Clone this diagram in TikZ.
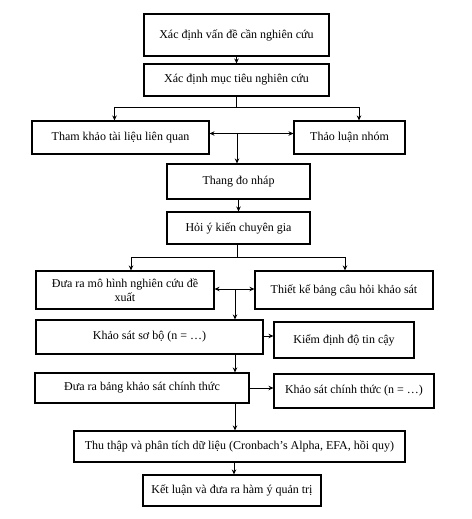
\documentclass[tikz,border=0pt]{standalone}
\usepackage{fontspec}
\setmainfont{Liberation Serif}
\usepackage{tikz}
\usetikzlibrary{positioning,calc,arrows.meta}

\tikzset{
	stepbox/.style={draw=black, line width=1.1pt, fill=white, align=center, inner sep=2pt, font=\fontsize{12}{14}\selectfont},
	link/.style={-{Stealth[length=5pt,width=4.5pt]}, line width=0.8pt},
	twoway/.style={{Stealth[length=5pt,width=4.5pt]}-{Stealth[length=5pt,width=4.5pt]}, line width=0.8pt},
	plain/.style={line width=0.8pt}
}

\begin{document}
\begin{tikzpicture}[x=1pt,y=1pt]
		\useasboundingbox (0,0) rectangle (471,-519);
		\node[stepbox, minimum width=185pt, minimum height=42pt] (vande) at (236.5,-35) {Xác định vấn đề cần nghiên cứu};
		\node[stepbox, minimum width=185pt, minimum height=32pt] (muctieu) at (236.5,-80) {Xác định mục tiêu nghiên cứu};
		\node[stepbox, minimum width=177pt, minimum height=33pt] (thamkhao) at (120.5,-137.5) {Tham khảo tài liệu liên quan};
		\node[stepbox, minimum width=111pt, minimum height=33pt] (thaoluan) at (349.5,-137.5) {Thảo luận nhóm};
		\node[stepbox, minimum width=143pt, minimum height=35pt] (nhap) at (238.5,-181.5) {Thang đo nháp};
		\node[stepbox, minimum width=143pt, minimum height=32pt] (chuyengia) at (238.5,-228) {Hỏi ý kiến chuyên gia};
		\node[stepbox, minimum width=178pt, minimum height=38pt] (mohinh) at (125,-290) {Đưa ra mô hình nghiên cứu đề\\xuất};
		\node[stepbox, minimum width=178pt, minimum height=38pt] (thietke) at (344,-290) {Thiết kế bảng câu hỏi khảo sát};
		\node[stepbox, minimum width=227pt, minimum height=34pt] (sobo) at (149.5,-337) {Khảo sát sơ bộ (n = …)};
		\node[stepbox, minimum width=140pt, minimum height=36pt] (tincay) at (344,-340) {Kiểm định độ tin cậy};
		\node[stepbox, minimum width=214pt, minimum height=30pt] (bang) at (142,-388) {Đưa ra bảng khảo sát chính thức};
		\node[stepbox, minimum width=160pt, minimum height=34pt] (chinhthuc) at (354,-391) {Khảo sát chính thức (n = …)};
		\node[stepbox, minimum width=331pt, minimum height=31pt] (phantich) at (239.5,-446.5) {Thu thập và phân tích dữ liệu (Cronbach’s Alpha, EFA, hồi quy)};
		\node[stepbox, minimum width=178pt, minimum height=31pt] (ketluan) at (232,-490.5) {Kết luận và đưa ra hàm ý quản trị};
		
		\coordinate (split1) at ($(muctieu.south)+(0,-11)$);
		\coordinate (mid1) at ($(nhap.north |- thamkhao.east)+(-1.5,4)$);
		\coordinate (split2) at ($(chuyengia.south)+(-1.5,-13)$);
		\coordinate (mid2) at ($(split2 |- mohinh.east)+(-2,1)$);
		
		\draw[link] (vande.south)--(muctieu.north);
		\draw[plain] (muctieu.south)--(split1);
		\draw[link] (split1)-|([xshift=-6pt]thamkhao.north);
		\draw[link] (split1)-|([xshift=9.5pt]thaoluan.north);
		\draw[twoway] ([yshift=4pt]thamkhao.east)--([yshift=4pt]thaoluan.west);
		\draw[link] (mid1)--(mid1 |- nhap.north);
		\draw[link] (nhap.south)--(chuyengia.north);
		\draw[plain] ([xshift=-1.5pt]chuyengia.south)--(split2);
		\draw[link] (split2)-|([xshift=6pt]mohinh.north);
		\draw[link] (split2)-|([xshift=1pt]thietke.north);
		\draw[twoway] ([yshift=1pt]mohinh.east)--([yshift=1pt]thietke.west);
		\draw[link] (mid2)--(mid2 |- sobo.north);
		\draw[link] ([yshift=1pt]sobo.east)--([yshift=1pt]sobo.east -| tincay.west);
		\draw[link] (mid2 |- sobo.south)--(mid2 |- bang.north);
		\draw[link] (bang.east)--(bang.east -| chinhthuc.west);
		\draw[link] (mid2 |- bang.south)--(mid2 |- phantich.north);
		\draw[link] ($(mid2 |- phantich.south)+(-1,0)$)--($(mid2 |- ketluan.north)+(-1,0)$);
	\end{tikzpicture}
\end{document}
